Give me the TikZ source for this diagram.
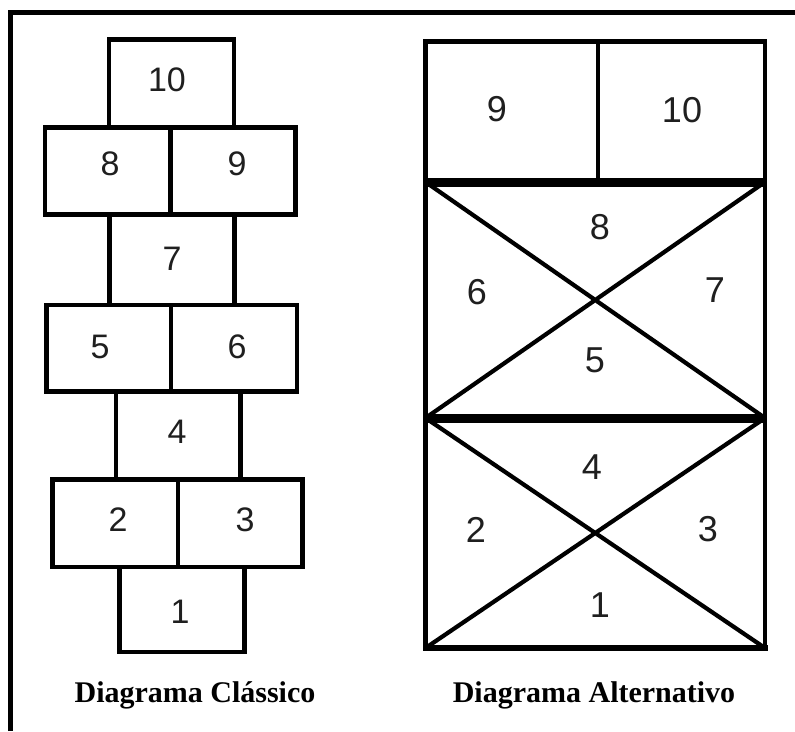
\documentclass[tikz,border=0pt]{standalone}
\usepackage{fontspec}
\setmainfont{Liberation Serif}
\newfontfamily\digitfont{Liberation Sans}
\begin{document}
\begin{tikzpicture}[x=1pt,y=-1pt,
  wall/.style={line width=4.2pt},
  frame/.style={line width=5pt},
  seam/.style={line width=9pt},
  num/.style={inner sep=0pt, font=\digitfont\fontsize{34}{34}\selectfont, text=black!88},
  bignum/.style={num, font=\digitfont\fontsize{36}{36}\selectfont},
  caption/.style={inner sep=0pt, anchor=base, font=\bfseries\fontsize{30}{30}\selectfont}]
\useasboundingbox (0,0) rectangle (795,731);
\fill[white] (0,0) rectangle (795,731);

% outer frame (top and left edges)
\draw[frame] (10,731) -- (10,12.5) -- (795,12.5);

% ---- classic hopscotch ----
\draw[wall] (109,39.5) rectangle (234,127.5);
\draw[wall] (45,127.5) rectangle (295.5,214.5);
\draw[wall] (170.5,127.5) -- (170.5,214.5);
\draw[wall] (109.5,214.5) -- (109.5,305) (234.5,214.5) -- (234.5,305);
\draw[wall] (46.5,305) rectangle (297,391.5);
\draw[wall] (171,305) -- (171,391.5);
\draw[wall] (116,391.5) -- (116,479.5) (240.5,391.5) -- (240.5,479.5);
\draw[wall] (52.5,479.5) rectangle (302.5,567);
\draw[wall] (178,479.5) -- (178,567);
\draw[wall] (119.5,567) rectangle (244.5,652);

\node[num] (n10) at (167,80) {10};
\node[num] (n8)  at (110,164) {8};
\node[num] (n9)  at (237,164) {9};
\node[num] (n7)  at (172,259) {7};
\node[num] (n5)  at (100,347) {5};
\node[num] (n6)  at (237,347) {6};
\node[num] (n4)  at (177,432) {4};
\node[num] (n2)  at (118,520) {2};
\node[num] (n3)  at (245,520) {3};
\node[num] (n1)  at (180,612) {1};
\node[caption] (capA) at (195,702) {Diagrama Clássico};

% ---- alternative hopscotch ----
\draw[wall] (425.5,41.5) rectangle (765,648);
\draw[line width=6pt] (423,648) -- (767.5,648);
\draw[wall] (598,41.5) -- (598,182);
\draw[wall] (425.5,182) -- (765,418) (765,182) -- (425.5,418);
\draw[wall] (425.5,418) -- (765,648) (765,418) -- (425.5,648);
\draw[seam] (423.5,182) -- (767,182) (423.5,418) -- (767,418);

\node[bignum] (a9)  at (497,109) {9};
\node[bignum] (a10) at (682,110) {10};
\node[bignum] (a8)  at (600,227) {8};
\node[bignum] (a6)  at (477,292) {6};
\node[bignum] (a7)  at (715,290) {7};
\node[bignum] (a5)  at (595,360) {5};
\node[bignum] (a4)  at (592,467) {4};
\node[bignum] (a2)  at (476,530) {2};
\node[bignum] (a3)  at (708,529) {3};
\node[bignum] (a1)  at (600,605) {1};
\node[caption] (capB) at (594,702) {Diagrama Alternativo};
\end{tikzpicture}
\end{document}
